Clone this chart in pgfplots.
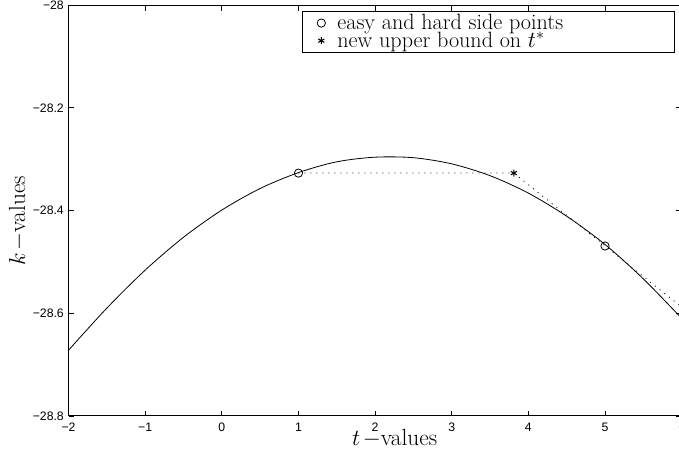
\documentclass[border=0pt]{standalone}
\usepackage{fontspec}
\usepackage{pgfplots}
\pgfplotsset{compat=1.18}
\newfontfamily\tickfont{Liberation Sans}
\begin{document}
\begin{tikzpicture}
\begin{axis}[
  at={(0,0)}, anchor=south west,
  scale only axis, width=459.9pt, height=308.1pt,
  xmin=-2, xmax=6, ymin=-28.8, ymax=-28,
  xtick={-2,-1,0,1,2,3,4,5,6},
  xticklabels={−2,−1,0,1,2,3,4,5,6},
  ytick={-28.8,-28.6,-28.4,-28.2,-28},
  yticklabels={−28.8,−28.6,−28.4,−28.2,−28},
  tick align=inside,
  major tick length=4pt,
  axis line style={line width=0.8pt},
  every tick/.style={black, line width=0.6pt},
  tick label style={font=\tickfont\fontsize{9.2}{10}\selectfont},
  xticklabel style={yshift=-1.5pt},
  xlabel={$t\mskip2mu{-}$values},
  ylabel={$k\mskip2mu{-}$values},
  every axis x label/.style={at={(axis description cs:0.532,0)}, anchor=center, yshift=-16.5pt, font=\fontsize{17.5}{20}\selectfont},
  every axis y label/.style={at={(axis description cs:0,0.475)}, anchor=center, xshift=-37.9pt, rotate=90, font=\fontsize{17.5}{20}\selectfont},
  legend style={at={(0.989,0.9867)}, anchor=north east, draw=black, line width=0.6pt,
    font=\fontsize{16.6}{18}\selectfont, inner xsep=2pt, inner ysep=1pt,
    row sep=-3pt, nodes={inner sep=1.5pt}},
  legend cell align=left,
  legend image code/.code={\path (0pt,0pt) (22.5pt,0pt); \draw[#1, line width=0.5pt] plot coordinates {(12.25pt,0pt)};},
]
\addplot[black, line width=0.6pt, smooth, forget plot] coordinates {
(-2,-28.672) (-1.5,-28.590) (-1,-28.516) (-0.5,-28.452) (0,-28.399)
(0.5,-28.357) (1,-28.326) (1.5,-28.305) (2,-28.296) (2.5,-28.297)
(3,-28.309) (3.5,-28.332) (4,-28.366) (4.5,-28.411) (5,-28.466)
(5.5,-28.533) (6,-28.610)};
\addplot[black, line width=0.6pt, dash pattern=on 0.7pt off 3.8pt, forget plot] coordinates {
(1,-28.327) (3.81,-28.327) (6,-28.588)};
\addplot[only marks, mark=o, mark size=3.1pt, black, mark options={line width=0.6pt}] coordinates {
(1,-28.327) (5,-28.469)};
\addlegendentry{easy and hard side points\rule{80pt}{0pt}}
\addplot[only marks, mark=asterisk, mark size=2.6pt, black, mark options={line width=0.8pt}] coordinates {
(3.81,-28.327)};
\addlegendentry{new upper bound on $t^*$}
\end{axis}
\pgfresetboundingbox
\path[use as bounding box] (-51.4pt,-25.5pt) rectangle (457.9pt,312pt);
\end{tikzpicture}
\end{document}
